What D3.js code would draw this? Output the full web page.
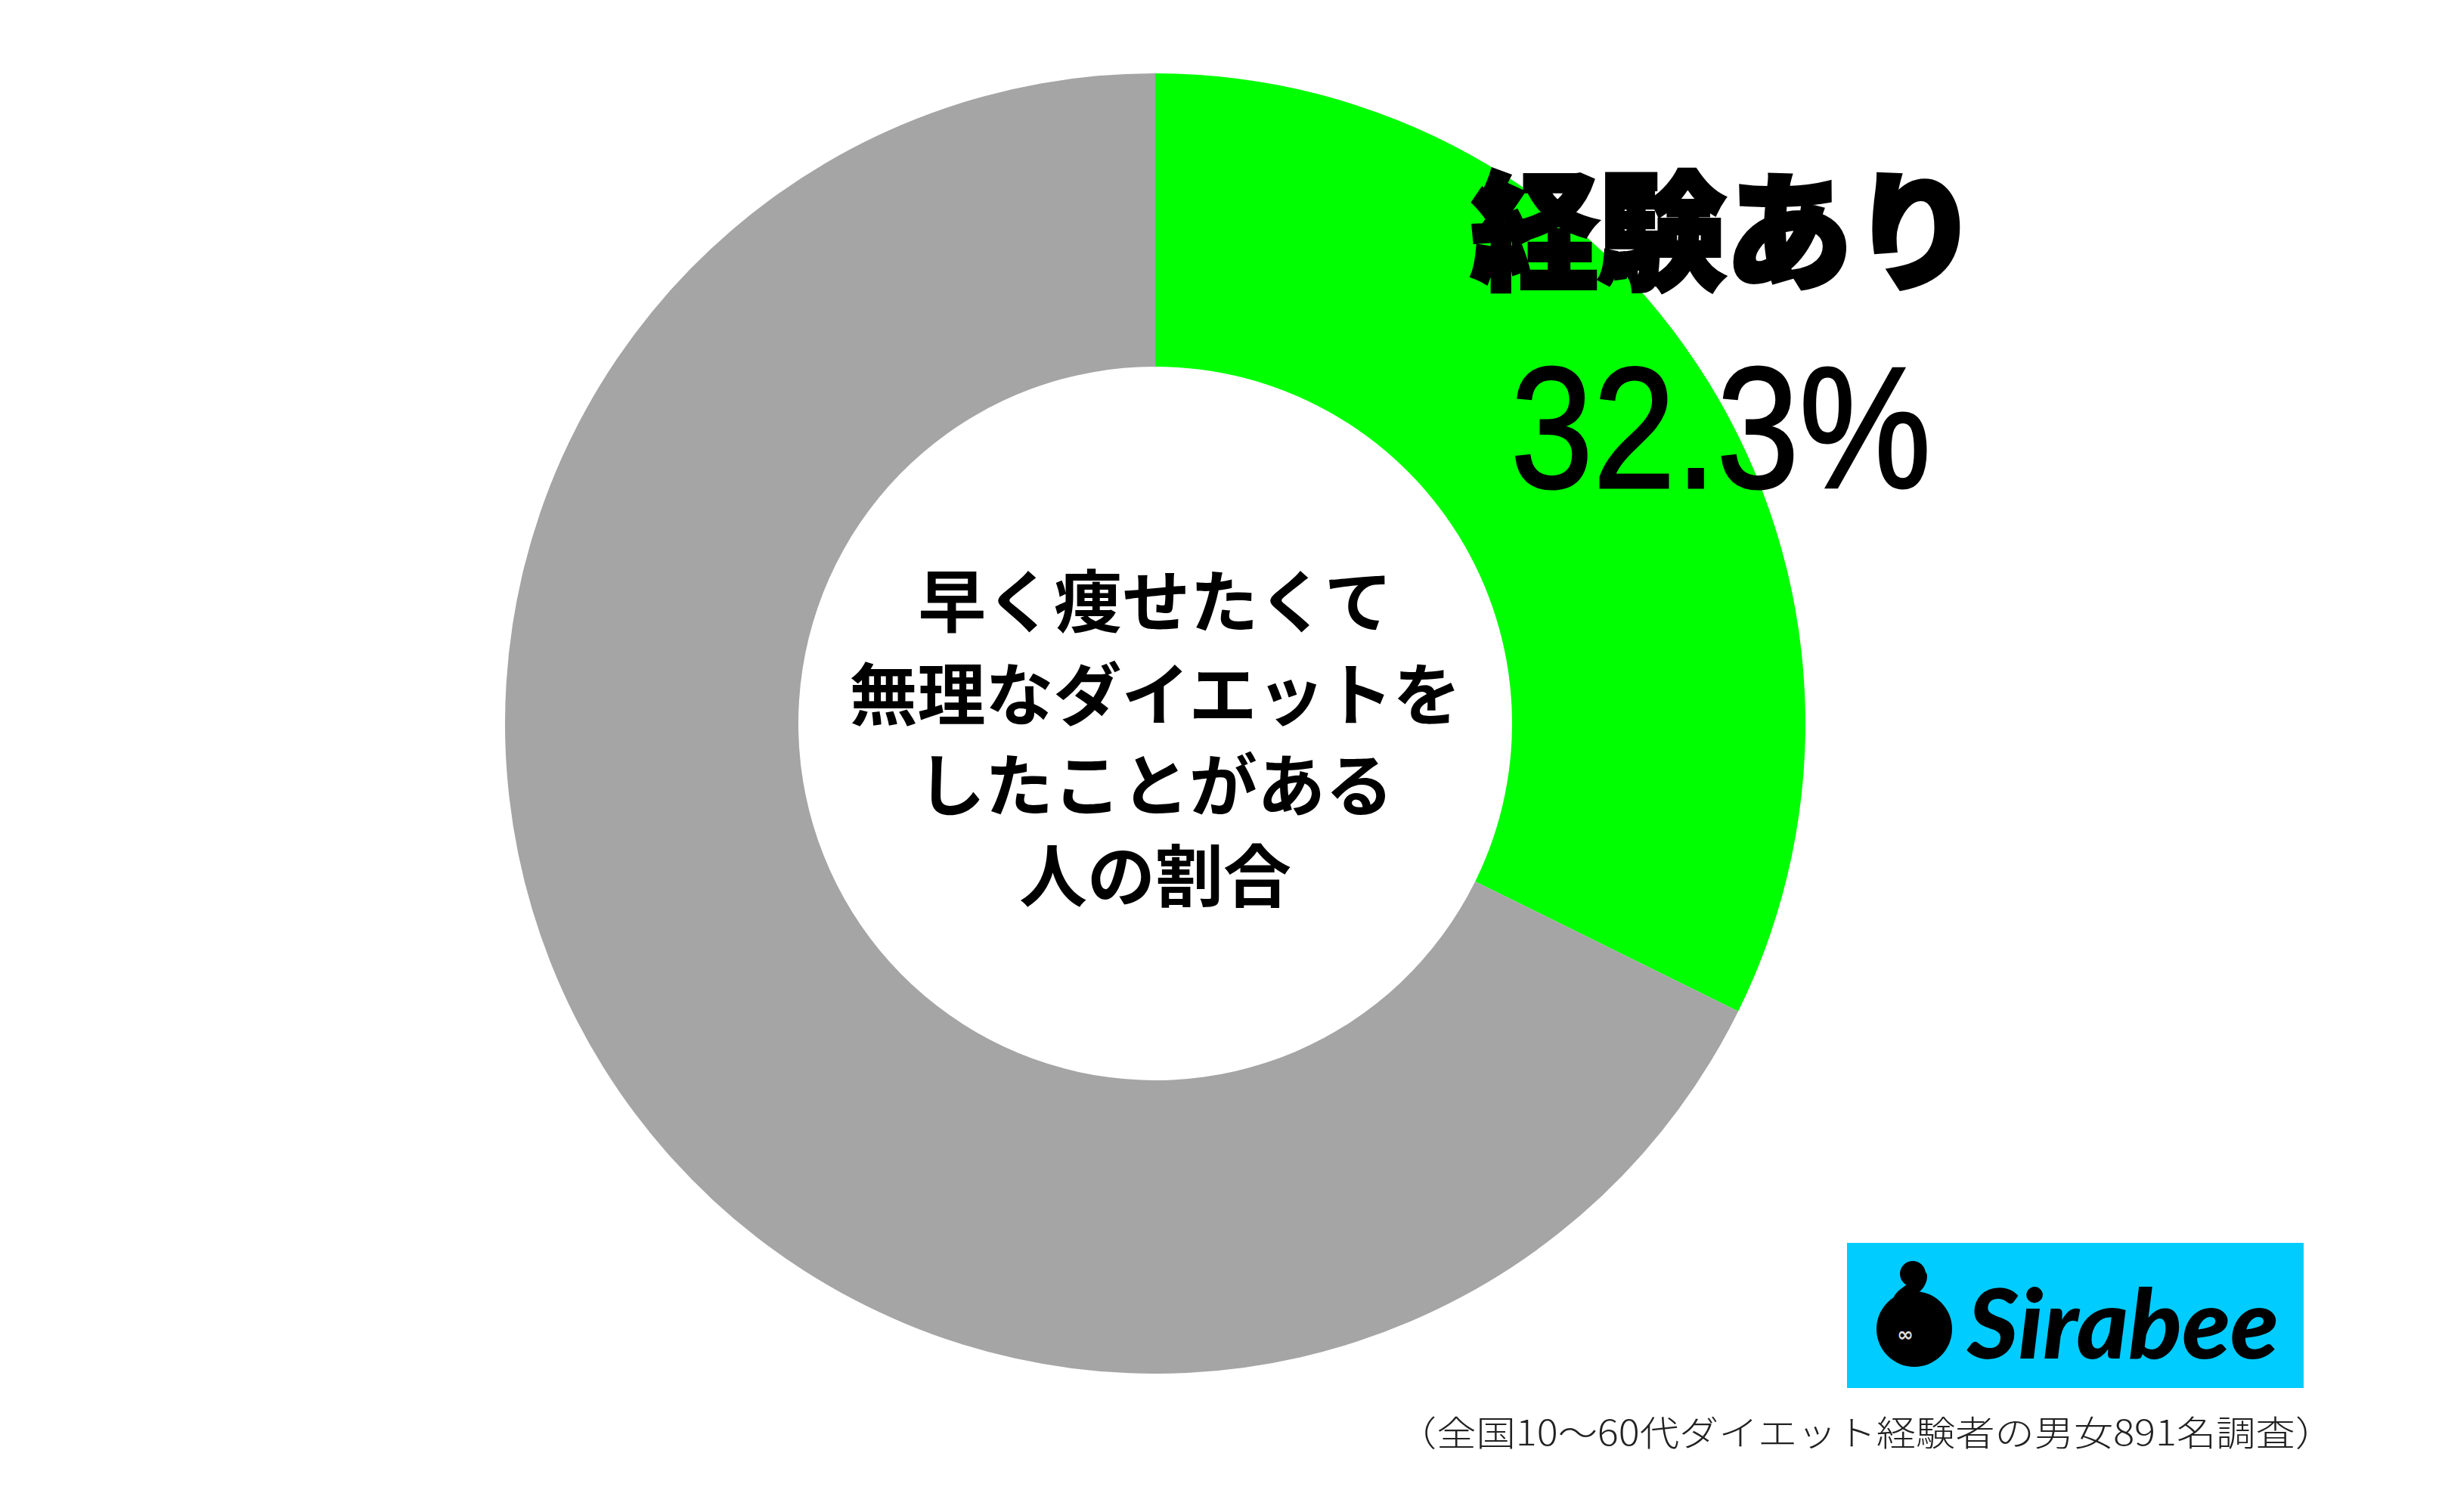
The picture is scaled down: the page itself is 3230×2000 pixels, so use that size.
<!DOCTYPE html>
<html><head><meta charset="utf-8">
<script src="https://cdn.jsdelivr.net/npm/d3@7"></script>
<style>html,body{margin:0;padding:0;background:#fff;}svg{display:block;}</style>
</head><body>
<script>
const categories = ["経験あり", "経験なし"];
const values = [32.3, 67.7];
const colors = ["#00FF00", "#A5A5A5"];
const centerLines = ["早く痩せたくて", "無理なダイエットを", "したことがある", "人の割合"];
const labelName = "経験あり";
const labelValue = "32.3%";
const caption = "（全国10～60代ダイエット経験者の男女891名調査）";
const logoText = "Sirabee";

const W = 3230, H = 2000;
const svg = d3.select("body").append("svg").attr("width", W).attr("height", H);
svg.append("rect").attr("width", W).attr("height", H).attr("fill", "#fff");

const cx = 1528, cy = 957, R = 860, r = 472;
const pie = d3.pie().sort(null).value(d => d)(values);
const arc = d3.arc().innerRadius(r).outerRadius(R);
const g = svg.append("g").attr("transform", `translate(${cx},${cy})`);
g.selectAll("path").data(pie).join("path")
  .attr("d", arc).attr("fill", (d, i) => colors[i]);

// center text
const ct = svg.append("g");
const lineY = [790, 913, 1033, 1153];
centerLines.forEach((t, i) => {
  ct.append("text").attr("x", cx).attr("y", lineY[i])
    .attr("text-anchor", "middle").attr("dominant-baseline", "central")
    .attr("font-family", "'Noto Sans CJK JP'").attr("font-weight", 700)
    .attr("font-size", 90).attr("fill", "#000").text(t);
});

// label
svg.append("text").attr("x", 2282).attr("y", 295)
  .attr("text-anchor", "middle").attr("dominant-baseline", "central")
  .attr("font-family", "'Noto Sans CJK JP'").attr("font-weight", 900)
  .attr("font-size", 168).attr("fill", "#000")
  .attr("stroke", "#000").attr("stroke-width", 6).attr("stroke-linejoin", "miter")
  .text(labelName);
svg.append("text").attr("x", 1998).attr("y", 645)
  .attr("font-family", "'Liberation Sans', Arial").attr("font-weight", 400)
  .attr("font-size", 228).attr("fill", "#000")
  .attr("stroke", "#000").attr("stroke-width", 3)
  .attr("textLength", 556).attr("lengthAdjust", "spacingAndGlyphs")
  .text(labelValue);

// logo
const lg = svg.append("g");
lg.append("rect").attr("x", 2443).attr("y", 1644).attr("width", 604).attr("height", 192).attr("fill", "#00CCFF");
lg.append("circle").attr("cx", 2532).attr("cy", 1758).attr("r", 50).attr("fill", "#000");
lg.append("path").attr("d", "M2512,1724 C2512,1710 2540,1706 2540,1688").attr("fill", "none").attr("stroke", "#000").attr("stroke-width", 18).attr("stroke-linecap", "round");
lg.append("circle").attr("cx", 2530).attr("cy", 1685).attr("r", 17).attr("fill", "#000");
lg.append("text").attr("x", 2520).attr("y", 1774).attr("text-anchor", "middle")
  .attr("font-family", "'DejaVu Sans'").attr("font-weight", 700).attr("font-size", 26).attr("fill", "#ddd").text("∞");
lg.append("text").attr("x", 2602).attr("y", 1797)
  .attr("font-family", "Lato, 'Open Sans'").attr("font-style", "italic").attr("font-weight", 900)
  .attr("font-size", 128).attr("fill", "#000")
  .attr("textLength", 412).attr("lengthAdjust", "spacingAndGlyphs")
  .text(logoText);

// caption
svg.append("text").attr("x", 3088).attr("y", 1892)
  .attr("text-anchor", "end").attr("dominant-baseline", "central")
  .attr("font-family", "'Noto Sans CJK JP'").attr("font-weight", 300)
  .attr("font-size", 46).attr("fill", "#222")
  .attr("textLength", 1240).attr("lengthAdjust", "spacingAndGlyphs")
  .text(caption);
</script>
</body></html>
